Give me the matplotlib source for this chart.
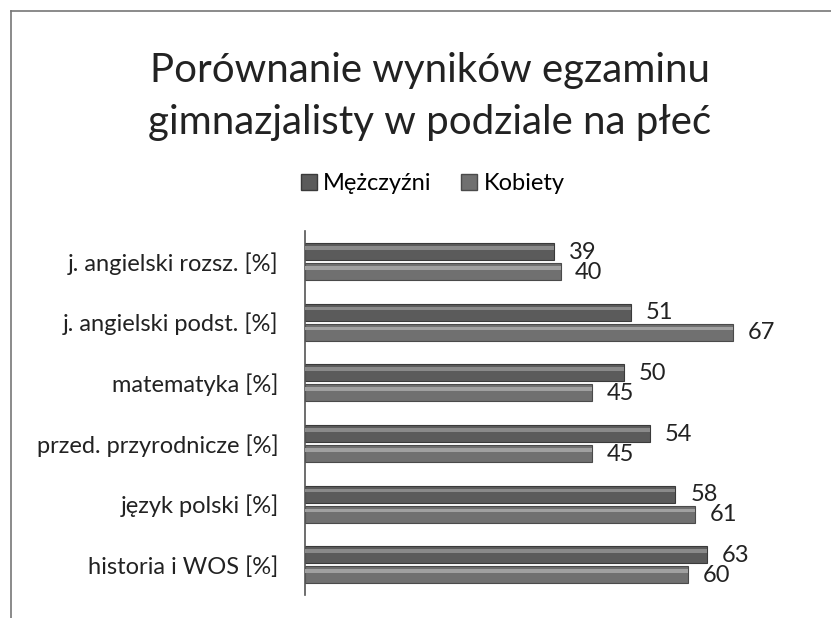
import matplotlib.pyplot as plt
import numpy as np
from matplotlib.lines import Line2D

# data (top to bottom as in the chart)
categories = ['j. angielski rozsz. [%]', 'j. angielski podst. [%]', 'matematyka [%]',
              'przed. przyrodnicze [%]', 'język polski [%]', 'historia i WOS [%]']
men = [39, 51, 50, 54, 58, 63]
women = [40, 67, 45, 45, 61, 60]
series_names = ['Mężczyźni', 'Kobiety']

plt.rcParams['font.family'] = ['Lato', 'DejaVu Sans']

fig = plt.figure(figsize=(8.31, 6.18), dpi=100)
ax = fig.add_axes([0.367, 0.037, 0.615, 0.589])

y = np.arange(len(categories))
h = 0.28
off = 0.165
colors = ['#5b5b5b', '#707070']
edges = ['#3a3a3a', '#4a4a4a']
hl = ['#8a8a8a', '#a0a0a0']

for vals, sign, c, e, l in [(men, -1, colors[0], edges[0], hl[0]),
                            (women, 1, colors[1], edges[1], hl[1])]:
    pos = y + sign * off
    ax.barh(pos, vals, height=h, color=c, edgecolor=e, linewidth=0.8, zorder=2)
    # lighter strip for the bevel look
    ax.barh(pos - h * 0.22, vals, height=h * 0.22, color=l, linewidth=0, zorder=3)
    for p, v in zip(pos, vals):
        ax.text(v + 2.3, p + 0.01, str(v), va='center', ha='left',
                fontsize=17, color='#222222')

ax.set_xlim(0, 80)
ax.set_ylim(len(categories) - 0.5, -0.5)
ax.set_yticks(y)
ax.set_yticklabels(categories, fontsize=17, color='#222222')
ax.tick_params(axis='y', length=0, pad=19)
ax.set_xticks([])
for s in ['top', 'right', 'bottom']:
    ax.spines[s].set_visible(False)
ax.spines['left'].set_color('#555555')
ax.spines['left'].set_linewidth(1.2)

fig.text(0.517, 0.844, 'Porównanie wyników egzaminu\ngimnazjalisty w podziale na płeć',
         ha='center', va='center', fontsize=29, color='#222222', linespacing=1.52)

handles = [Line2D([], [], marker='s', linestyle='', markersize=11, markerfacecolor=c,
                  markeredgecolor=e) for c, e in zip(colors, edges)]
fig.legend(handles, series_names, loc='center', bbox_to_anchor=(0.517, 0.703), ncol=2,
           frameon=False, fontsize=17, handletextpad=0.0, columnspacing=1.0,
           handlelength=1.2)

# frame lines of the scanned chart area
fig.add_artist(Line2D([0.0135, 1.0], [0.982, 0.982], color='#777777', linewidth=1.2))
fig.add_artist(Line2D([0.0135, 0.0135], [0.0, 0.982], color='#777777', linewidth=1.2))

fig.savefig('out.png', dpi=100)
